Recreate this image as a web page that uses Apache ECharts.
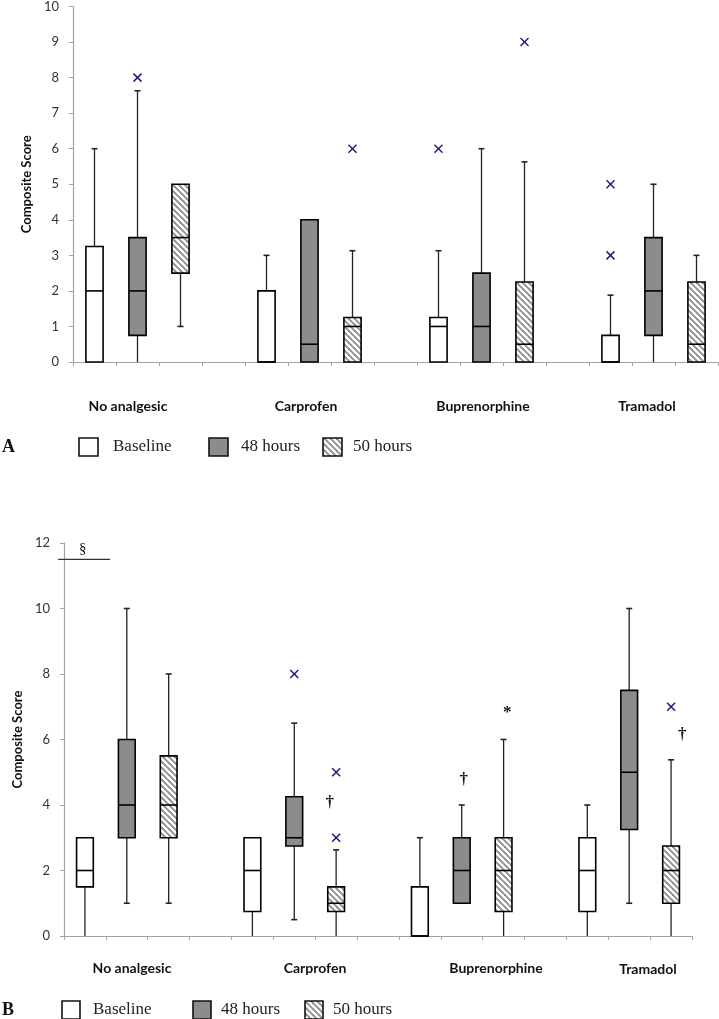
<!DOCTYPE html>
<html><head><meta charset="utf-8">
<script src="https://cdn.jsdelivr.net/npm/echarts@6/dist/echarts.min.js"></script>
<style>html,body{margin:0;padding:0;background:#fff}#c{width:719px;height:1019px}</style>
</head><body><div id="c"></div>
<script>
// ---------- data ----------
const groups = ['No analgesic', 'Carprofen', 'Buprenorphine', 'Tramadol'];
const periods = ['Baseline', '48 hours', '50 hours'];
const yAxisName = 'Composite Score';
const panelLetters = ['A', 'B'];

// box stats per group: [min, Q1, median, Q3, max]
const A_baseline = [[0, 0, 2, 3.25, 6], [0, 0, 0, 2, 3], [0, 0, 1, 1.25, 3.13], [0, 0, 0, 0.75, 1.88]];
const A_48h      = [[0, 0.75, 2, 3.5, 7.63], [0, 0, 0.5, 4, 4], [0, 0, 1, 2.5, 6], [0, 0.75, 2, 3.5, 5]];
const A_50h      = [[1, 2.5, 3.5, 5, 5], [0, 0, 1, 1.25, 3.13], [0, 0, 0.5, 2.25, 5.63], [0, 0, 0.5, 2.25, 3]];
// outliers: [group, period, value]
const A_outliers = [[0, 1, 8], [1, 2, 6], [2, 0, 6], [2, 2, 9], [3, 0, 5], [3, 0, 3]];

const B_baseline = [[0, 1.5, 2, 3, 3], [0, 0.75, 2, 3, 3], [0, 0, 0, 1.5, 3], [0, 0.75, 2, 3, 4]];
const B_48h      = [[1, 3, 4, 6, 10], [0.5, 2.75, 3, 4.25, 6.5], [1, 1, 2, 3, 4], [1, 3.25, 5, 7.5, 10]];
const B_50h      = [[1, 3, 4, 5.5, 8], [0, 0.75, 1, 1.5, 2.63], [0, 0.75, 2, 3, 6], [0, 1, 2, 2.75, 5.38]];
const B_outliers = [[1, 1, 8], [1, 2, 5], [1, 2, 3], [3, 2, 7]];
// significance marks: [slot position, value, symbol]
const B_marks = [[-0.05, 11.83, '§'], [5.85, 4.08, '†'], [9.05, 4.78, '†'], [10.09, 6.83, '*'], [14.27, 6.15, '†']];
const B_bracket = [[-0.64, 11.5], [0.6, 11.5]];

const yTicksA = { min: 0, max: 10, interval: 1 };
const yTicksB = { min: 0, max: 12, interval: 2 };

// ---------- build ----------
const slots = [];
groups.forEach((g, gi) => {
  periods.forEach(p => slots.push(g + ' - ' + p));
  if (gi < groups.length - 1) slots.push('gap ' + gi);
});
const slotOf = (g, p) => g * 4 + p;

const hatch = document.createElement('canvas');
hatch.width = 6; hatch.height = 6;
(function () {
  const ctx = hatch.getContext('2d');
  ctx.fillStyle = '#fff'; ctx.fillRect(0, 0, 6, 6);
  ctx.strokeStyle = '#8f8f8f'; ctx.lineWidth = 1.9;
  [[-6, 0], [0, 0], [6, 0]].forEach(([dx]) => {
    ctx.beginPath(); ctx.moveTo(dx - 1, -1); ctx.lineTo(dx + 7, 7); ctx.stroke();
  });
})();
const fills = ['#ffffff', '#8c8c8c', { image: hatch, repeat: 'repeat' }];

function boxRender(p) {
  return function (params, api) {
    const x = api.value(0);
    const v = [1, 2, 3, 4, 5].map(i => api.value(i));
    const pt = v.map(val => api.coord([x, val]));
    const cx = pt[0][0];
    const bw = api.size([1, 0])[0] * 0.4;
    const cap = 3;
    const ch = [];
    const ls = { stroke: '#222', lineWidth: 1.3 };
    if (v[4] > v[3]) {
      ch.push({ type: 'line', shape: { x1: cx, y1: pt[3][1], x2: cx, y2: pt[4][1] }, style: ls });
      ch.push({ type: 'line', shape: { x1: cx - cap, y1: pt[4][1], x2: cx + cap, y2: pt[4][1] }, style: { stroke: '#222', lineWidth: 1.6 } });
    }
    if (v[1] > v[0]) {
      ch.push({ type: 'line', shape: { x1: cx, y1: pt[1][1], x2: cx, y2: pt[0][1] }, style: ls });
      if (v[0] > 0) ch.push({ type: 'line', shape: { x1: cx - cap, y1: pt[0][1], x2: cx + cap, y2: pt[0][1] }, style: { stroke: '#222', lineWidth: 1.6 } });
    }
    ch.push({ type: 'rect', shape: { x: cx - bw / 2, y: pt[3][1], width: bw, height: pt[1][1] - pt[3][1] },
      style: { fill: fills[p], stroke: '#000', lineWidth: 1.6 } });
    ch.push({ type: 'line', shape: { x1: cx - bw / 2, y1: pt[2][1], x2: cx + bw / 2, y2: pt[2][1] }, style: { stroke: '#000', lineWidth: 1.6 } });
    return { type: 'group', children: ch };
  };
}

function outlierRender(params, api) {
  const c = api.coord([api.value(0), api.value(1)]);
  const h = 4;
  const st = { stroke: '#1b1b78', lineWidth: 1.5 };
  return { type: 'group', children: [
    { type: 'line', shape: { x1: c[0] - h, y1: c[1] - h, x2: c[0] + h, y2: c[1] + h }, style: st },
    { type: 'line', shape: { x1: c[0] - h, y1: c[1] + h, x2: c[0] + h, y2: c[1] - h }, style: st }
  ] };
}

function posX(api, f, y) {
  const base = Math.round(f);
  return api.coord([base, y])[0] + (f - base) * api.size([1, 0])[0];
}

const series = [];
[[A_baseline, A_48h, A_50h], [B_baseline, B_48h, B_50h]].forEach((sets, panel) => {
  sets.forEach((vals, p) => {
    series.push({
      type: 'custom', name: periods[p], xAxisIndex: panel, yAxisIndex: panel,
      renderItem: boxRender(p), clip: false,
      encode: { x: 0, y: [1, 2, 3, 4, 5] },
      data: vals.map((v, g) => [slotOf(g, p)].concat(v))
    });
  });
  const outs = panel === 0 ? A_outliers : B_outliers;
  series.push({
    type: 'custom', name: 'outliers', xAxisIndex: panel, yAxisIndex: panel,
    renderItem: outlierRender, clip: false, encode: { x: 0, y: 1 },
    data: outs.map(o => [slotOf(o[0], o[1]), o[2]])
  });
});
series.push({
  type: 'custom', name: 'marks', xAxisIndex: 1, yAxisIndex: 1, clip: false,
  encode: { x: 0, y: 1 },
  data: B_marks.map(m => [m[0], m[1]]),
  renderItem: function (params, api) {
    const m = B_marks[params.dataIndex];
    const y = api.coord([0, m[1]])[1];
    const x = posX(api, m[0], m[1]);
    const isSec = m[2] === '§';
    return { type: 'text', style: { x: x, y: y, text: m[2], textAlign: 'center', textVerticalAlign: 'middle',
      font: (isSec ? '15px' : 'bold 17px') + ' "Liberation Serif", serif', fill: '#111' } };
  }
});
series.push({
  type: 'custom', name: 'bracket', xAxisIndex: 1, yAxisIndex: 1, clip: false,
  encode: { x: 0, y: 1 }, data: [B_bracket[0].slice()],
  renderItem: function (params, api) {
    const y = api.coord([0, B_bracket[0][1]])[1];
    return { type: 'line', shape: { x1: posX(api, B_bracket[0][0], 0), y1: y, x2: posX(api, B_bracket[1][0], 0), y2: y },
      style: { stroke: '#333', lineWidth: 1.3 } };
  }
});

const axisGray = '#a3a3a3';
function xAx(gi) {
  return { type: 'category', gridIndex: gi, data: slots, boundaryGap: true,
    axisLine: { show: true, lineStyle: { color: axisGray, width: 1.2 } },
    axisTick: { show: true, interval: 0, length: 4, lineStyle: { color: axisGray } },
    axisLabel: { show: false }, splitLine: { show: false } };
}
function yAx(gi, t) {
  return { type: 'value', gridIndex: gi, min: t.min, max: t.max, interval: t.interval,
    name: yAxisName, nameLocation: 'middle', nameGap: 29,
    nameTextStyle: { fontFamily: 'Lato', fontWeight: 'bold', fontSize: 13, color: '#111' },
    axisLine: { show: true, lineStyle: { color: axisGray, width: 1.2 } },
    axisTick: { show: true, length: 4, lineStyle: { color: axisGray } },
    axisLabel: { margin: 14, color: '#333', fontFamily: 'Lato', fontSize: 13 },
    splitLine: { show: false } };
}

const graphic = [];
const catPos = [[[128, 406], [306, 406], [483, 406], [647, 406]], [[132, 968], [315, 968], [496, 968], [648, 969]]];
catPos.forEach(panel => panel.forEach((pos, g) => {
  graphic.push({ type: 'text', x: pos[0], y: pos[1], style: { text: groups[g], textAlign: 'center', textVerticalAlign: 'middle',
    font: 'bold 14px Lato', fill: '#111' } });
}));
const legendLayout = [
  { y: 447, box: [79, 209, 323], text: [113, 241, 353], size: 18 },
  { y: 1010, box: [62, 193, 305], text: [93, 221, 333], size: 18 }
];
legendLayout.forEach((L, panel) => {
  graphic.push({ type: 'text', x: 2, y: L.y, style: { text: panelLetters[panel], textVerticalAlign: 'middle',
    font: 'bold 18px "Liberation Serif", serif', fill: '#111' } });
  periods.forEach((p, i) => {
    graphic.push({ type: 'rect', shape: { x: L.box[i], y: L.y - L.size / 2, width: L.size + (panel === 0 ? 1 : 0), height: L.size },
      style: { fill: fills[i], stroke: '#111', lineWidth: 1.6 } });
    graphic.push({ type: 'text', x: L.text[i], y: L.y, style: { text: p, textVerticalAlign: 'middle',
      font: '17px "Liberation Serif", serif', fill: '#222' } });
  });
});

const chart = echarts.init(document.getElementById('c'), null, { renderer: 'canvas' });
chart.setOption({
  animation: false,
  backgroundColor: '#fff',
  grid: [
    { left: 73, right: 1, top: 5, bottom: 657 },
    { left: 64, right: 27, top: 543, bottom: 83 }
  ],
  xAxis: [xAx(0), xAx(1)],
  yAxis: [yAx(0, yTicksA), yAx(1, yTicksB)],
  series: series,
  graphic: graphic
});
</script></body></html>
